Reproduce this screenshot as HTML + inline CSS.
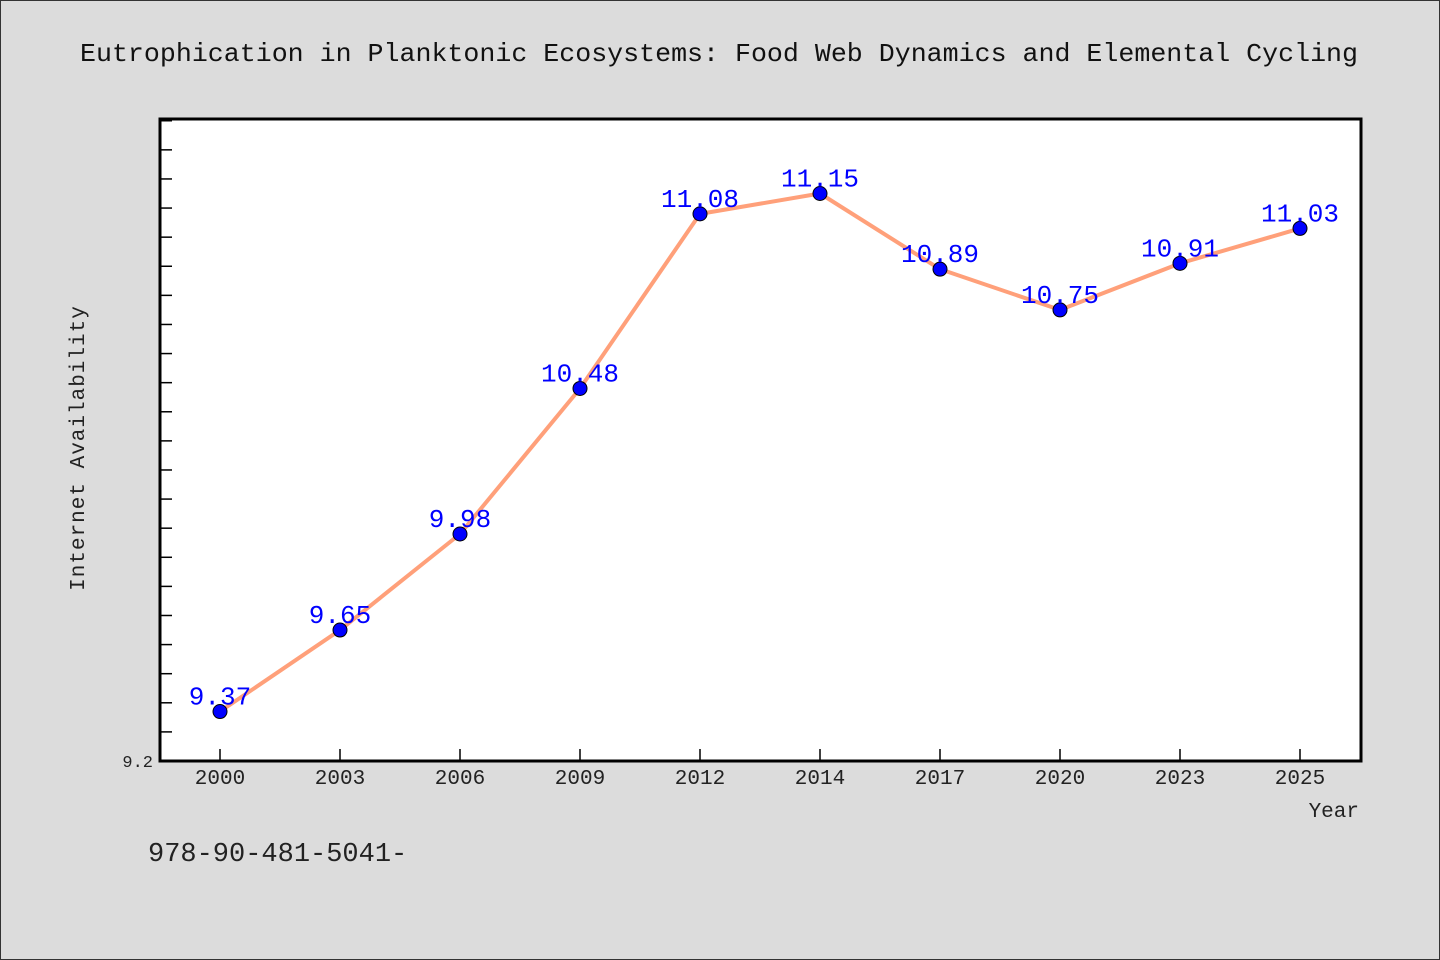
<!DOCTYPE html>
<html><head><meta charset="utf-8"><style>
html,body{margin:0;padding:0;background:#dcdcdc;}
svg{display:block;font-family:"WenQuanYi Zen Hei Mono","WenQuanYi Zen Hei","Liberation Mono",monospace;}
</style></head><body>
<svg id="chart" width="1440" height="960">
<rect x="0.5" y="0.5" width="1439" height="959" fill="#dcdcdc" stroke="#333"/>
<text x="80" y="61" textLength="1278" lengthAdjust="spacingAndGlyphs" font-size="26" fill="#111">Eutrophication in Planktonic Ecosystems: Food Web Dynamics and Elemental Cycling</text>
<rect x="160" y="119" width="1201" height="642" fill="#fff"/>
<g id="yticks"></g><g id="xticks"></g>
<path id="line" fill="none" stroke="#ffa07a" stroke-width="4" stroke-linejoin="round"/>
<g id="points"></g>
<rect x="160" y="119" width="1201" height="642" fill="none" stroke="#000" stroke-width="3"/>
<text x="84" y="448" transform="rotate(-90 84 448)" text-anchor="middle" font-size="21" fill="#222" letter-spacing="1">Internet Availability</text>
<text x="1359" y="817" text-anchor="end" font-size="21" fill="#222">Year</text>
<text x="148" y="861" font-size="27" fill="#222">978-90-481-5041-</text>
</svg>
<script>
const categories=["2000","2003","2006","2009","2012","2014","2017","2020","2023","2025"];
const values=[9.37,9.65,9.98,10.48,11.08,11.15,10.89,10.75,10.91,11.03];
const yTickLabels=["9.2"];
const yMin=9.2,yMax=11.406;
const x0=160,topY=119,botY=761;
function xs(i){return 220+i*120;}
function ys(v){return botY-(v-yMin)/(yMax-yMin)*(botY-topY);}
const NS="http://www.w3.org/2000/svg";
function mk(t,a,p){const e=document.createElementNS(NS,t);for(const k in a)e.setAttribute(k,a[k]);p.appendChild(e);return e;}
const yt=document.getElementById('yticks');
for(let k=0;k<40;k++){const v=yMin+k*0.1;if(v>yMax)break;const y=ys(v);
 const l=mk('line',{x1:x0,x2:x0+12,y1:y,y2:y,stroke:'#000','stroke-width':1.5},yt);
 
 }
yTickLabels.forEach(s=>{const t=mk('text',{x:153,y:ys(parseFloat(s))+6,'text-anchor':'end','font-size':17,fill:'#222'},yt);t.textContent=s;
 
 });
const xt=document.getElementById('xticks');
categories.forEach((c,i)=>{const x=xs(i);
 const l=mk('line',{x1:x,x2:x,y1:botY,y2:botY-12,stroke:'#000','stroke-width':1.5},xt);
 
 
 const t=mk('text',{x:x,y:botY+23,'text-anchor':'middle','font-size':21,fill:'#222'},xt);t.textContent=c;
 
 });
document.getElementById('line').setAttribute('d',values.map((v,i)=>(i?'L':'M')+xs(i)+','+ys(v)).join(''));
const pg=document.getElementById('points');
values.forEach((v,i)=>{
 const c=mk('circle',{cx:xs(i),cy:ys(v),r:7,fill:'#0000ff',stroke:'#000','stroke-width':1},pg);
 
 
 const t=mk('text',{x:xs(i),y:ys(v)-7,'text-anchor':'middle','font-size':26,fill:'#0000ff'},pg);t.textContent=v.toFixed(2);
 
 });
</script>
</body></html>
